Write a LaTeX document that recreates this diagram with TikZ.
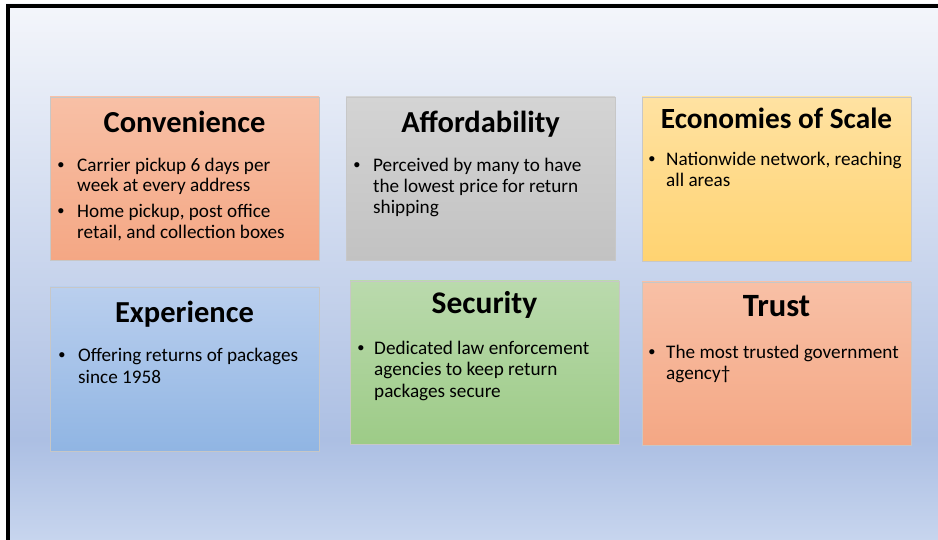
\documentclass[tikz,border=0pt]{standalone}
\usepackage{fontspec}
\setmainfont{Carlito}
\newfontfamily\arialf{Liberation Sans}
\usetikzlibrary{shadows}
\definecolor{bgA}{HTML}{F4F6FB}
\definecolor{bgB}{HTML}{ACBFE3}
\definecolor{bgC}{HTML}{C7D5EE}
\definecolor{salmonT}{HTML}{F8C0A6}
\definecolor{salmonB}{HTML}{F4A784}
\definecolor{greyT}{HTML}{D4D4D4}
\definecolor{greyB}{HTML}{C2C2C2}
\definecolor{goldT}{HTML}{FFE2A2}
\definecolor{goldB}{HTML}{FFD371}
\definecolor{blueT}{HTML}{BACFEE}
\definecolor{blueB}{HTML}{90B5E3}
\definecolor{greenT}{HTML}{BADAAD}
\definecolor{greenB}{HTML}{9DCB87}
\tikzset{
  panel/.style={draw=black!22, line width=0.6pt, inner sep=0pt, outer sep=0pt,
    anchor=north west, drop shadow={shadow xshift=1.2pt, shadow yshift=-1.2pt, opacity=0.25}},
  ttl/.style={font=\fontsize{30.5}{34}\selectfont\bfseries, inner sep=0pt, anchor=base},
  body/.style={font=\fontsize{19.2}{22}\selectfont, inner sep=0pt, anchor=base west},
  bul/.style={font=\arialf\fontsize{19}{22}\selectfont, inner sep=0pt, anchor=base}
}
\begin{document}
\begin{tikzpicture}[x=1pt,y=-1pt]
\useasboundingbox (0,0) rectangle (938,540);
\fill[white] (0,0) rectangle (938,540);
\shade[top color=bgA, bottom color=bgB] (6,4) rectangle (938,440);
\shade[top color=bgB, bottom color=bgC] (6,440) rectangle (938,540);
\fill[black] (6,4) rectangle (938,8);
\fill[black] (6,4) rectangle (9.5,540);

% Convenience
\node[panel, top color=salmonT, bottom color=salmonB, minimum width=269pt, minimum height=163pt] (conv) at (50,97) {};
\node[ttl] (convT) at (184.5,133) {Convenience};
\node[bul] (convB1) at (61,172) {•};
\node[body] (conv1) at (77,172) {Carrier pickup 6 days per};
\node[body] (conv2) at (77,192) {week at every address};
\node[bul] (convB2) at (61,218) {•};
\node[body] (conv3) at (77,218) {Home pickup, post office};
\node[body] (conv4) at (77,239) {retail, and collection boxes};

% Affordability
\node[panel, top color=greyT, bottom color=greyB, minimum width=269pt, minimum height=163pt] (aff) at (346,97) {};
\node[ttl] (affT) at (480.5,133) {Affordability};
\node[bul] (affB1) at (357,172) {•};
\node[body] (aff1) at (373,172) {Perceived by many to have};
\node[body] (aff2) at (373,193) {the lowest price for return};
\node[body] (aff3) at (373,214) {shipping};

% Economies of Scale
\node[panel, top color=goldT, bottom color=goldB, minimum width=269pt, minimum height=164pt] (eco) at (642,97) {};
\node[ttl, font=\fontsize{29.3}{33}\selectfont\bfseries] (ecoT) at (776.5,129) {Economies of Scale};
\node[bul] (ecoB1) at (652,166) {•};
\node[body] (eco1) at (666,166) {Nationwide network, reaching};
\node[body] (eco2) at (666,187) {all areas};

% Experience
\node[panel, top color=blueT, bottom color=blueB, minimum width=269pt, minimum height=164pt] (exp) at (50,287) {};
\node[ttl] (expT) at (184.5,323) {Experience};
\node[bul] (expB1) at (62,362) {•};
\node[body] (exp1) at (78,362) {Offering returns of packages};
\node[body] (exp2) at (78,383) {since 1958};

% Security
\node[panel, top color=greenT, bottom color=greenB, minimum width=269pt, minimum height=163pt] (sec) at (350,281) {};
\node[ttl, font=\fontsize{31.5}{35}\selectfont\bfseries] (secT) at (484.5,314) {Security};
\node[bul] (secB1) at (361,355) {•};
\node[body] (sec1) at (374,355) {Dedicated law enforcement};
\node[body] (sec2) at (374,376) {agencies to keep return};
\node[body] (sec3) at (374,397) {packages secure};

% Trust
\node[panel, top color=salmonT, bottom color=salmonB, minimum width=269pt, minimum height=163pt] (tru) at (642,282) {};
\node[ttl, font=\fontsize{32.5}{36}\selectfont\bfseries] (truT) at (776.5,317) {Trust};
\node[bul] (truB1) at (652,359) {•};
\node[body] (tru1) at (666,359) {The most trusted government};
\node[body] (tru2) at (666,380) {agency†};
\end{tikzpicture}
\end{document}
